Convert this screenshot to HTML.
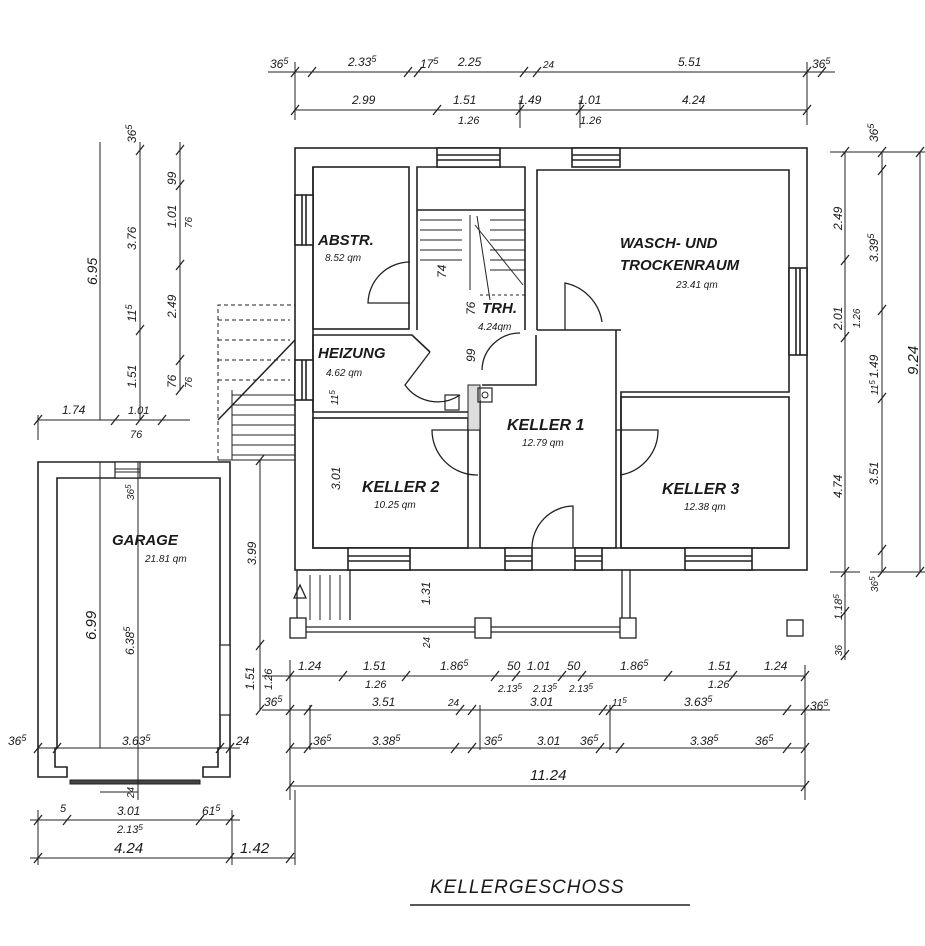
<!DOCTYPE html>
<html><head><meta charset="utf-8"><style>
html,body{margin:0;padding:0;background:#fff;}
svg{display:block;}
text{font-family:"Liberation Sans",sans-serif;font-style:italic;fill:#1a1a1a;}
</style></head><body>
<svg width="925" height="946" viewBox="0 0 925 946" xmlns="http://www.w3.org/2000/svg">
<defs>
<path id="t" d="M-4,5 L4,-5" stroke="#222" stroke-width="1.3"/>
</defs>
<rect width="925" height="946" fill="#fff"/>
<g stroke="#222" fill="none" stroke-width="1.6">
<!-- main building outer -->
<rect x="295" y="148" width="512" height="422" fill="#fff"/>
<!-- rooms -->
<rect x="313" y="167" width="96" height="162"/>
<path d="M417,330 V167 H525 V330"/>
<path d="M417,210 H525"/>
<path d="M537,330 V170 H789 V392 H621 V548"/>
<path d="M537,330 H621"/>
<path d="M313,335 H412 L430,352 M313,335 V412 H470 V400"/>
<rect x="313" y="418" width="155" height="130"/>
<path d="M480,548 V400 M480,548 H530 M575,548 H616 V330"/>
<path d="M480,400 H470 M520,385 H536 V335 M482,385 H520"/>
<rect x="621" y="397" width="168" height="151"/>
<path d="M313,167 V548 H789"/>
<!-- windows -->
<rect x="437" y="148" width="63" height="19" fill="#fff"/><path d="M437,155 H500 M437,160 H500"/>
<rect x="572" y="148" width="48" height="19" fill="#fff"/><path d="M572,155 H620 M572,160 H620"/>
<rect x="789" y="268" width="18" height="87" fill="#fff"/><path d="M796,268 V355 M800,268 V355"/>
<rect x="295" y="195" width="18" height="50" fill="#fff"/><path d="M302,195 V245 M306,195 V245"/>
<rect x="295" y="360" width="18" height="40" fill="#fff"/><path d="M302,360 V400 M306,360 V400"/>
<rect x="348" y="548" width="62" height="22" fill="#fff"/><path d="M348,556 H410 M348,561 H410"/>
<rect x="505" y="548" width="27" height="22" fill="#fff"/><path d="M505,556 H532 M505,561 H532"/>
<rect x="575" y="548" width="27" height="22" fill="#fff"/><path d="M575,556 H602 M575,561 H602"/>
<rect x="685" y="548" width="67" height="22" fill="#fff"/><path d="M685,556 H752 M685,561 H752"/>
<!-- doors -->
<path d="M410,303 H368 A42,42 0 0 1 410,262" stroke-width="1.3"/>
<path d="M430,352 L405,385 A40,40 0 0 0 460,395" stroke-width="1.3"/>
<path d="M482,370 A38,38 0 0 1 520,333" stroke-width="1.3"/>
<path d="M565,330 V283 A47,47 0 0 1 602,322" stroke-width="1.3"/>
<path d="M480,430 H432 A45,45 0 0 0 478,475" stroke-width="1.3"/>
<path d="M616,430 H658 A45,45 0 0 1 620,475" stroke-width="1.3"/>
<path d="M532,548 A42,42 0 0 1 573,506 V548" stroke-width="1.3"/>
<!-- chimney & fixtures -->
<rect x="468" y="385" width="12" height="45" fill="#ddd" stroke-width="1"/>
<rect x="478" y="388" width="14" height="14" stroke-width="1.2"/><circle cx="485" cy="395" r="3" stroke-width="1"/>
<rect x="445" y="395" width="14" height="15" stroke-width="1.2"/>
<!-- stair treads -->
<g stroke-width="1">
<path d="M420,220 H462 M420,230 H462 M420,240 H462 M420,250 H462 M420,260 H462"/>
<path d="M490,220 H525 M490,230 H525 M490,240 H525 M490,250 H525 M490,260 H525 M490,270 H525"/>
<path d="M470,215 V290 M477,216 L490,300 M475,225 L523,285"/>
<path d="M480,295 H525" stroke-dasharray="3,3"/>
</g>
<!-- exterior stair left -->
<g stroke-width="1">
<path d="M232,390 V460 M232,395 H295 M232,405 H295 M232,415 H295 M232,425 H295 M232,435 H295 M232,445 H295 M232,455 H295"/>
<path d="M218,460 V305 H295 M218,320 H290 M218,340 H290 M218,360 H290 M218,380 H290" stroke-dasharray="4,3"/>
<path d="M218,420 L295,340" stroke-width="1.5"/>
<path d="M218,460 H295"/>
</g>
<!-- terrace -->
<g stroke-width="1.3">
<path d="M297,570 V620 M350,570 V620"/>
<path d="M310,575 V620 M320,575 V620 M330,575 V620 M340,575 V620" stroke-width="1"/>
<path d="M300,585 L306,598 H294 Z" />
<rect x="290" y="618" width="16" height="20" fill="#fff"/>
<rect x="475" y="618" width="16" height="20" fill="#fff"/>
<rect x="620" y="618" width="16" height="20" fill="#fff"/>
<path d="M306,627 H475 M306,632 H475 M491,627 H620 M491,632 H620"/>
<path d="M622,570 V618 M630,570 V618"/>
<rect x="787" y="620" width="16" height="16"/>
</g>
<!-- garage -->
<path d="M38,462 H230 V777 H203 V767 H218 V748 H220 V478 H57 V748 H55 V767 H67 V777 H38 Z" fill="#fff"/>
<rect x="115" y="462" width="25" height="16" fill="#fff" stroke-width="1.2"/>
<path d="M115,469 H140 M115,472 H140" stroke-width="1"/>
<rect x="220" y="645" width="10" height="70" fill="#fff" stroke-width="1.2"/>
<rect x="70" y="780" width="130" height="4" fill="#444" stroke-width="1"/>
</g>

<!-- dimension lines -->
<g stroke="#222" stroke-width="1" fill="none">
<path d="M268,72 H835 M295,110 H807"/>
<path d="M295,62 V120 M807,62 V125 M520,100 V128 M580,100 V128"/>
<path d="M100,142 V420 M140,142 V420 M180,142 V390"/>
<path d="M38,420 H190 M38,415 V440"/>
<path d="M845,152 V660 M882,152 V572 M920,152 V572"/>
<path d="M830,152 H925 M870,572 H925 M830,572 H860"/>
<path d="M262,676 H805 M262,710 H830 M290,748 H805 M290,786 H805"/>
<path d="M290,660 V800 M805,665 V800 M310,705 V750 M480,705 V750 M610,705 V750"/>
<path d="M260,460 V710"/>
<path d="M100,462 V748 M138,462 V800 M38,748 H240"/>
<path d="M100,792 H138"/>
<path d="M30,820 H240 M30,858 H295 M38,810 V865 M232,810 V865 M295,790 V865"/>
<path d="M410,905 H690" stroke-width="1.6"/>
</g>
<g>
<use href="#t" x="295" y="72"/><use href="#t" x="312" y="72"/><use href="#t" x="408" y="72"/><use href="#t" x="418" y="72"/><use href="#t" x="524" y="72"/><use href="#t" x="537" y="72"/><use href="#t" x="807" y="72"/><use href="#t" x="822" y="72"/>
<use href="#t" x="295" y="110"/><use href="#t" x="437" y="110"/><use href="#t" x="520" y="110"/><use href="#t" x="580" y="110"/><use href="#t" x="807" y="110"/>
<use href="#t" x="140" y="150"/><use href="#t" x="140" y="330"/><use href="#t" x="140" y="420"/><use href="#t" x="180" y="150"/><use href="#t" x="180" y="185"/><use href="#t" x="180" y="265"/><use href="#t" x="180" y="360"/><use href="#t" x="180" y="390"/>
<use href="#t" x="38" y="420"/><use href="#t" x="115" y="420"/><use href="#t" x="162" y="420"/>
<use href="#t" x="845" y="152"/><use href="#t" x="845" y="260"/><use href="#t" x="845" y="337"/><use href="#t" x="845" y="572"/><use href="#t" x="845" y="612"/><use href="#t" x="845" y="655"/>
<use href="#t" x="882" y="152"/><use href="#t" x="882" y="170"/><use href="#t" x="882" y="310"/><use href="#t" x="882" y="398"/><use href="#t" x="882" y="550"/><use href="#t" x="882" y="572"/><use href="#t" x="920" y="152"/><use href="#t" x="920" y="572"/>
<use href="#t" x="290" y="676"/><use href="#t" x="343" y="676"/><use href="#t" x="406" y="676"/><use href="#t" x="495" y="676"/><use href="#t" x="516" y="676"/><use href="#t" x="562" y="676"/><use href="#t" x="582" y="676"/><use href="#t" x="668" y="676"/><use href="#t" x="733" y="676"/><use href="#t" x="805" y="676"/>
<use href="#t" x="290" y="710"/><use href="#t" x="308" y="710"/><use href="#t" x="460" y="710"/><use href="#t" x="472" y="710"/><use href="#t" x="603" y="710"/><use href="#t" x="610" y="710"/><use href="#t" x="787" y="710"/><use href="#t" x="805" y="710"/>
<use href="#t" x="290" y="748"/><use href="#t" x="308" y="748"/><use href="#t" x="455" y="748"/><use href="#t" x="472" y="748"/><use href="#t" x="600" y="748"/><use href="#t" x="620" y="748"/><use href="#t" x="787" y="748"/><use href="#t" x="805" y="748"/>
<use href="#t" x="290" y="786"/><use href="#t" x="805" y="786"/>
<use href="#t" x="260" y="460"/><use href="#t" x="260" y="645"/><use href="#t" x="260" y="710"/>
<use href="#t" x="38" y="820"/><use href="#t" x="67" y="820"/><use href="#t" x="200" y="820"/><use href="#t" x="230" y="820"/><use href="#t" x="38" y="858"/><use href="#t" x="230" y="858"/><use href="#t" x="290" y="858"/>
<use href="#t" x="38" y="748"/><use href="#t" x="57" y="748"/><use href="#t" x="220" y="748"/><use href="#t" x="230" y="748"/>
</g>

<!-- room labels -->
<g font-weight="bold" font-size="15">
<text x="318" y="245">ABSTR.</text>
<text x="482" y="313">TRH.</text>
<text x="318" y="358">HEIZUNG</text>
<text x="620" y="248">WASCH-  UND</text>
<text x="620" y="270">TROCKENRAUM</text>
<text x="507" y="430" font-size="16">KELLER 1</text>
<text x="362" y="492" font-size="16">KELLER 2</text>
<text x="662" y="494" font-size="16">KELLER 3</text>
<text x="112" y="545">GARAGE</text>
</g>
<g font-size="10">
<text x="325" y="261">8.52 qm</text>
<text x="478" y="330">4.24qm</text>
<text x="326" y="376">4.62 qm</text>
<text x="676" y="288">23.41 qm</text>
<text x="522" y="446">12.79 qm</text>
<text x="374" y="508">10.25 qm</text>
<text x="684" y="510">12.38 qm</text>
<text x="145" y="562">21.81 qm</text>
</g>
<g font-size="12">
<text x="270" y="68">36<tspan dy="-4" font-size="9">5</tspan></text>
<text x="348" y="66">2.33<tspan dy="-4" font-size="9">5</tspan></text>
<text x="420" y="68">17<tspan dy="-4" font-size="9">5</tspan></text>
<text x="458" y="66">2.25</text>
<text x="543" y="68" font-size="10">24</text>
<text x="678" y="66">5.51</text>
<text x="812" y="68">36<tspan dy="-4" font-size="9">5</tspan></text>
<text x="352" y="104">2.99</text>
<text x="453" y="104">1.51</text>
<text x="458" y="124" font-size="11">1.26</text>
<text x="518" y="104">1.49</text>
<text x="578" y="104">1.01</text>
<text x="580" y="124" font-size="11">1.26</text>
<text x="682" y="104">4.24</text>
<text transform="translate(97,285) rotate(-90)" font-size="14">6.95</text>
<text transform="translate(136,143) rotate(-90)">36<tspan dy="-4" font-size="9">5</tspan></text>
<text transform="translate(136,250) rotate(-90)">3.76</text>
<text transform="translate(136,322) rotate(-90)">11<tspan dy="-4" font-size="9">5</tspan></text>
<text transform="translate(136,388) rotate(-90)">1.51</text>
<text transform="translate(176,185) rotate(-90)">99</text>
<text transform="translate(176,228) rotate(-90)">1.01</text>
<text transform="translate(192,228) rotate(-90)" font-size="10">76</text>
<text transform="translate(176,318) rotate(-90)">2.49</text>
<text transform="translate(176,388) rotate(-90)">76</text>
<text transform="translate(192,388) rotate(-90)" font-size="10">76</text>
<text x="62" y="414">1.74</text>
<text x="128" y="414" font-size="11">1.01</text>
<text x="130" y="438" font-size="11">76</text>
<text transform="translate(446,278) rotate(-90)">74</text>
<text transform="translate(475,315) rotate(-90)">76</text>
<text transform="translate(475,362) rotate(-90)">99</text>
<text transform="translate(338,405) rotate(-90)" font-size="10">11<tspan dy="-3" font-size="8">5</tspan></text>
<text transform="translate(340,490) rotate(-90)">3.01</text>
<text transform="translate(430,605) rotate(-90)">1.31</text>
<text transform="translate(430,648) rotate(-90)" font-size="10">24</text>
<text transform="translate(842,230) rotate(-90)">2.49</text>
<text transform="translate(842,330) rotate(-90)">2.01</text>
<text transform="translate(860,328) rotate(-90)" font-size="10">1.26</text>
<text transform="translate(878,142) rotate(-90)">36<tspan dy="-4" font-size="9">5</tspan></text>
<text transform="translate(878,262) rotate(-90)">3.39<tspan dy="-4" font-size="9">5</tspan></text>
<text transform="translate(878,378) rotate(-90)">1.49</text>
<text transform="translate(878,395) rotate(-90)" font-size="10">11<tspan dy="-3" font-size="8">5</tspan></text>
<text transform="translate(842,498) rotate(-90)">4.74</text>
<text transform="translate(878,485) rotate(-90)">3.51</text>
<text transform="translate(918,375) rotate(-90)" font-size="15">9.24</text>
<text transform="translate(878,592) rotate(-90)" font-size="10">36<tspan dy="-3" font-size="8">5</tspan></text>
<text transform="translate(842,620) rotate(-90)" font-size="11">1.18<tspan dy="-3" font-size="8">5</tspan></text>
<text transform="translate(842,656) rotate(-90)" font-size="10">36</text>
<text x="298" y="670">1.24</text>
<text x="363" y="670">1.51</text>
<text x="365" y="688" font-size="11">1.26</text>
<text x="440" y="670">1.86<tspan dy="-4" font-size="9">5</tspan></text>
<text x="507" y="670">50</text>
<text x="527" y="670">1.01</text>
<text x="567" y="670">50</text>
<text x="498" y="692" font-size="10">2.13<tspan dy="-3" font-size="8">5</tspan></text>
<text x="533" y="692" font-size="10">2.13<tspan dy="-3" font-size="8">5</tspan></text>
<text x="569" y="692" font-size="10">2.13<tspan dy="-3" font-size="8">5</tspan></text>
<text x="620" y="670">1.86<tspan dy="-4" font-size="9">5</tspan></text>
<text x="708" y="670">1.51</text>
<text x="708" y="688" font-size="11">1.26</text>
<text x="764" y="670">1.24</text>
<text x="264" y="706">36<tspan dy="-4" font-size="9">5</tspan></text>
<text x="372" y="706">3.51</text>
<text x="448" y="706" font-size="10">24</text>
<text x="530" y="706">3.01</text>
<text x="612" y="706" font-size="10">11<tspan dy="-3" font-size="8">5</tspan></text>
<text x="684" y="706">3.63<tspan dy="-4" font-size="9">5</tspan></text>
<text x="810" y="710">36<tspan dy="-4" font-size="9">5</tspan></text>
<text x="313" y="745">36<tspan dy="-4" font-size="9">5</tspan></text>
<text x="372" y="745">3.38<tspan dy="-4" font-size="9">5</tspan></text>
<text x="484" y="745">36<tspan dy="-4" font-size="9">5</tspan></text>
<text x="537" y="745">3.01</text>
<text x="580" y="745">36<tspan dy="-4" font-size="9">5</tspan></text>
<text x="690" y="745">3.38<tspan dy="-4" font-size="9">5</tspan></text>
<text x="755" y="745">36<tspan dy="-4" font-size="9">5</tspan></text>
<text x="530" y="780" font-size="15">11.24</text>
<text x="8" y="745">36<tspan dy="-4" font-size="9">5</tspan></text>
<text x="122" y="745">3.63<tspan dy="-4" font-size="9">5</tspan></text>
<text x="236" y="745">24</text>
<text transform="translate(96,640) rotate(-90)" font-size="15">6.99</text>
<text transform="translate(134,655) rotate(-90)">6.38<tspan dy="-4" font-size="9">5</tspan></text>
<text transform="translate(134,500) rotate(-90)" font-size="10">36<tspan dy="-3" font-size="8">5</tspan></text>
<text transform="translate(134,798) rotate(-90)" font-size="10">24</text>
<text transform="translate(256,565) rotate(-90)">3.99</text>
<text transform="translate(254,690) rotate(-90)">1.51</text>
<text transform="translate(272,690) rotate(-90)" font-size="11">1.26</text>
<text x="60" y="812" font-size="11">5</text>
<text x="117" y="815">3.01</text>
<text x="117" y="833" font-size="11">2.13<tspan dy="-3" font-size="8">5</tspan></text>
<text x="202" y="815">61<tspan dy="-4" font-size="9">5</tspan></text>
<text x="114" y="853" font-size="15">4.24</text>
<text x="240" y="853" font-size="15">1.42</text>
</g>
<text x="430" y="893" font-size="19" letter-spacing="1">KELLERGESCHOSS</text>
</svg>
</body></html>
